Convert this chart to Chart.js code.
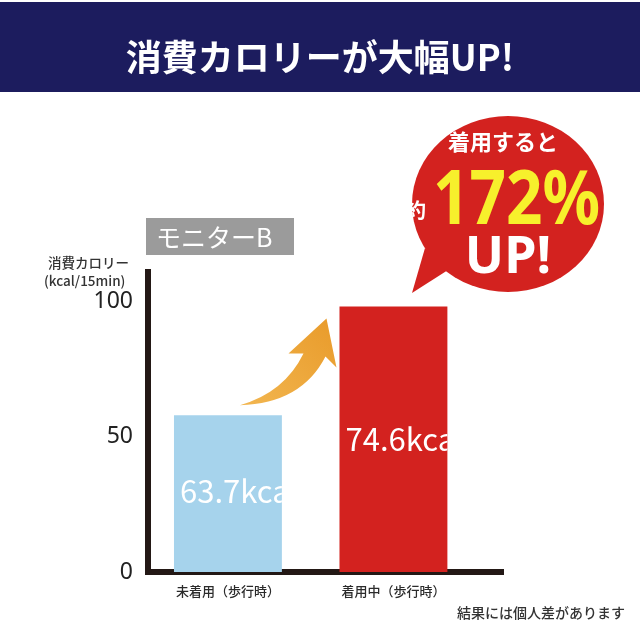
<!DOCTYPE html>
<html lang="ja">
<head>
<meta charset="utf-8">
<script src="https://cdn.jsdelivr.net/npm/chart.js@4/dist/chart.umd.min.js"></script>
<style>
  html, body { margin: 0; padding: 0; background: #ffffff; }
  #wrap { width: 640px; height: 640px; position: relative; }
</style>
</head>
<body>
<div id="wrap"><canvas id="c" width="640" height="640"></canvas></div>
<script>
// ---- data ----
const categories = ['未着用（歩行時）', '着用中（歩行時）'];
const barValues = [58, 98.2];                 // drawn bar heights
const barTexts = ['63.7kcal', '74.6kcal'];    // texts printed inside bars
const barTextAt = [30, 49.2];                 // value level at which the inside text sits
const yTicks = [0, 50, 100];
const xPositions = [0, 1];
const titleText = '消費カロリーが大幅UP!';
const monitorText = 'モニターB';
const yTitleLines = ['消費カロリー', '(kcal/15min)'];
const bubbleLines = ['着用すると', '約', '172%', 'UP!'];
const footnote = '結果には個人差があります';

const JP = '"Noto Sans CJK JP", "Noto Sans", sans-serif';

const decor = {
  id: 'decor',
  beforeDraw(chart) {
    const ctx = chart.ctx;
    ctx.save();
    // header band
    ctx.fillStyle = '#1c1c5e';
    ctx.fillRect(0, 2, 640, 90);
    ctx.fillStyle = '#ffffff';
    ctx.font = `bold 36px ${JP}`;
    ctx.textAlign = 'center';
    ctx.textBaseline = 'middle';
    ctx.fillText(titleText, 320, 57);
    // monitor label box
    ctx.fillStyle = '#9b9b9b';
    ctx.fillRect(146, 218, 148, 37);
    ctx.fillStyle = '#ffffff';
    ctx.font = `400 25px ${JP}`;
    ctx.textAlign = 'left';
    ctx.fillText(monitorText, 156, 237);
    // y title
    ctx.fillStyle = '#333333';
    ctx.font = `500 13.5px ${JP}`;
    ctx.fillText(yTitleLines[0], 48, 263);
    ctx.fillText(yTitleLines[1], 44, 281);
    // footnote
    ctx.textAlign = 'right';
    ctx.font = `500 14px ${JP}`;
    ctx.fillText(footnote, 625, 613);
    ctx.restore();
  },
  afterDatasetsDraw(chart) {
    const ctx = chart.ctx;
    const meta = chart.getDatasetMeta(0);
    const yScale = chart.scales.y;
    ctx.save();
    // texts inside bars, clipped to bar
    meta.data.forEach((bar, i) => {
      const p = bar.getProps(['x', 'y', 'base', 'width'], true);
      const left = p.x - p.width / 2;
      ctx.save();
      ctx.beginPath();
      ctx.rect(left, p.y, p.width, p.base - p.y);
      ctx.clip();
      ctx.fillStyle = '#ffffff';
      ctx.font = `400 31px ${JP}`;
      ctx.textAlign = 'left';
      ctx.textBaseline = 'middle';
      ctx.fillText(barTexts[i], left + 6, yScale.getPixelForValue(barTextAt[i]));
      ctx.restore();
    });
    // arrow from bar 1 to bar 2
    const b1 = meta.data[0].getProps(['x', 'y', 'width'], true);
    const b2 = meta.data[1].getProps(['x', 'y', 'width'], true);
    const r1 = b1.x + b1.width / 2;
    const l2 = b2.x - b2.width / 2;
    const ox = l2, oy = b2.y;
    const P = (dx, dy) => [ox + dx, oy + dy];
    const tail = [r1 - 42, b1.y - 10];
    const grad = ctx.createLinearGradient(tail[0], tail[1], ox - 12, oy + 12);
    grad.addColorStop(0, '#f2b650');
    grad.addColorStop(1, '#e99c2c');
    ctx.fillStyle = grad;
    ctx.beginPath();
    ctx.moveTo(tail[0], tail[1]);
    ctx.quadraticCurveTo(...P(-55, 86), ...P(-36, 47));
    ctx.lineTo(...P(-51, 47));
    ctx.lineTo(...P(-13, 12));
    ctx.lineTo(...P(-3, 61));
    ctx.lineTo(...P(-14, 50));
    ctx.quadraticCurveTo(...P(-38, 97), tail[0], tail[1]);
    ctx.closePath();
    ctx.fill();
    ctx.restore();
  },
  afterDraw(chart) {
    const ctx = chart.ctx;
    ctx.save();
    // speech bubble
    ctx.fillStyle = '#d3221f';
    ctx.beginPath();
    ctx.ellipse(508, 204, 96, 88, 0, 0, Math.PI * 2);
    ctx.fill();
    ctx.beginPath();
    ctx.moveTo(425, 248);
    ctx.lineTo(412, 293);
    ctx.lineTo(448, 270);
    ctx.closePath();
    ctx.fill();
    ctx.textBaseline = 'middle';
    ctx.textAlign = 'center';
    ctx.fillStyle = '#ffffff';
    ctx.font = `bold 22px ${JP}`;
    ctx.fillText(bubbleLines[0], 503, 142);
    ctx.font = `bold 20px ${JP}`;
    ctx.fillText(bubbleLines[1], 416, 210);
    // big percentage, slightly condensed
    ctx.save();
    ctx.translate(433, 202);
    ctx.scale(0.84, 1);
    ctx.fillStyle = '#f7f02c';
    ctx.font = `bold 76px "Noto Sans", ${JP}`;
    ctx.textAlign = 'left';
    ctx.fillText(bubbleLines[2], 0, 0);
    ctx.restore();
    ctx.fillStyle = '#ffffff';
    ctx.font = `bold 52px "Noto Sans", ${JP}`;
    ctx.textAlign = 'center';
    ctx.fillText(bubbleLines[3], 508, 258);
    ctx.restore();
  }
};

const chart = new Chart(document.getElementById('c'), {
  type: 'bar',
  data: {
    datasets: [{
      data: xPositions.map((x, i) => ({ x: x, y: barValues[i] })),
      backgroundColor: ['#a6d3ec', '#d3221f'],
      borderWidth: 0,
      barPercentage: 0.652,
      categoryPercentage: 1
    }]
  },
  options: {
    responsive: false,
    animation: false,
    devicePixelRatio: 1,
    layout: { padding: { left: 0, right: 137, top: 272, bottom: 0 } },
    plugins: { legend: { display: false }, tooltip: { enabled: false }, title: { display: false } },
    scales: {
      x: {
        type: 'linear',
        offset: false,
        min: -0.483,
        max: 1.662,
        afterFit: s => { s.height = 68; },
        afterBuildTicks: s => { s.ticks = xPositions.map(v => ({ value: v })); },
        grid: { display: false, offset: false },
        border: { display: true, width: 6, color: '#231815' },
        ticks: {
          callback: v => categories[v] ?? '',
          color: '#2b2b2b',
          font: { family: JP, size: 13, weight: '500' },
          padding: 3,
          maxRotation: 0,
          autoSkip: false
        }
      },
      y: {
        min: 0,
        max: 111,
        afterFit: s => { s.width = 148; },
        afterBuildTicks: s => { s.ticks = yTicks.map(v => ({ value: v })); },
        grid: { display: false },
        border: { display: true, width: 6, color: '#231815' },
        ticks: {
          color: '#222222',
          font: { family: '"Noto Sans", sans-serif', size: 23, weight: '400' },
          padding: 7
        }
      }
    }
  },
  plugins: [decor]
});
</script>
</body>
</html>
